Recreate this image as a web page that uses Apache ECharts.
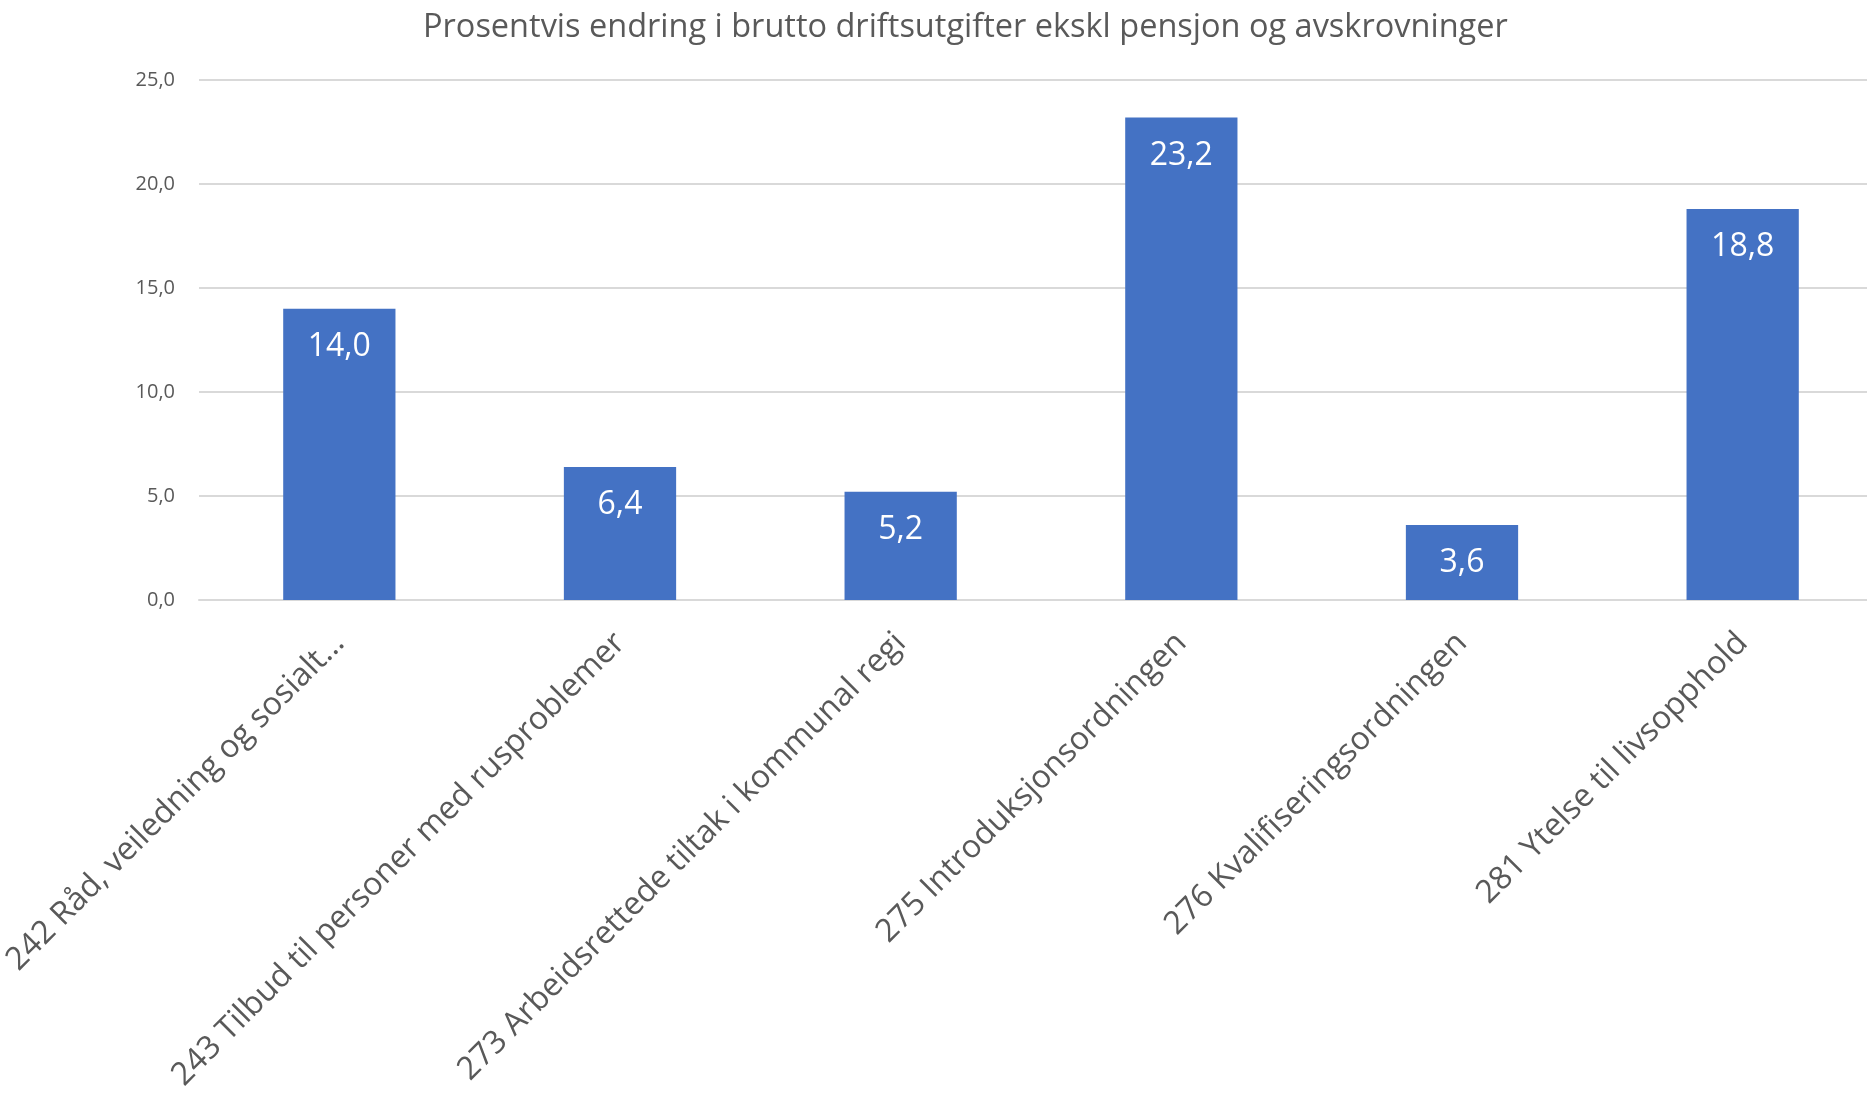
<!DOCTYPE html>
<html>
<head>
<meta charset="utf-8">
<script src="https://cdn.jsdelivr.net/npm/echarts@6/dist/echarts.min.js"></script>
<style>
html,body{margin:0;padding:0;background:#fff;}
#chart{width:1867px;height:1097px;}
</style>
</head>
<body>
<div id="chart"></div>
<script>
const titleText = 'Prosentvis endring i brutto driftsutgifter ekskl pensjon og avskrovninger';
const categories = [
  '242 Råd, veiledning og sosialt...',
  '243 Tilbud til personer med rusproblemer',
  '273 Arbeidsrettede tiltak i kommunal regi',
  '275 Introduksjonsordningen',
  '276 Kvalifiseringsordningen',
  '281 Ytelse til livsopphold'
];
const values = [14.0, 6.4, 5.2, 23.2, 3.6, 18.8];
const yTicks = [0, 5, 10, 15, 20, 25];

const fmt = v => Number(v).toFixed(1).replace('.', ',');
const FONT = '"Open Sans", "Noto Sans", sans-serif';

const chart = echarts.init(document.getElementById('chart'));
chart.setOption({
  animation: false,
  title: {
    text: titleText,
    left: 418,
    top: 6,
    textStyle: {color: '#595959', fontSize: 32.5, fontWeight: 'normal', fontFamily: FONT}
  },
  grid: {left: 199, right: -16, top: 80, bottom: 497, containLabel: false, outerBoundsMode: 'none'},
  xAxis: {
    type: 'category',
    data: categories,
    axisLine: {lineStyle: {color: '#d9d9d9', width: 2}},
    axisTick: {show: false},
    axisLabel: {
      rotate: 45,
      interval: 0,
      color: '#595959',
      fontSize: 32,
      fontFamily: FONT,
      margin: 38
    }
  },
  yAxis: {
    type: 'value',
    min: yTicks[0],
    max: yTicks[yTicks.length - 1],
    interval: 5,
    axisLine: {show: false},
    axisTick: {show: false},
    splitLine: {lineStyle: {color: '#d9d9d9', width: 2}},
    axisLabel: {
      color: '#595959',
      fontSize: 20,
      fontFamily: FONT,
      margin: 24,
      formatter: fmt
    }
  },
  series: [{
    type: 'bar',
    data: values,
    barWidth: '40%',
    itemStyle: {color: '#4472c4'},
    label: {
      show: true,
      position: 'insideTop',
      distance: 22,
      color: '#ffffff',
      fontSize: 32,
      fontFamily: FONT,
      formatter: p => fmt(p.value)
    }
  }]
});
</script>
</body>
</html>
